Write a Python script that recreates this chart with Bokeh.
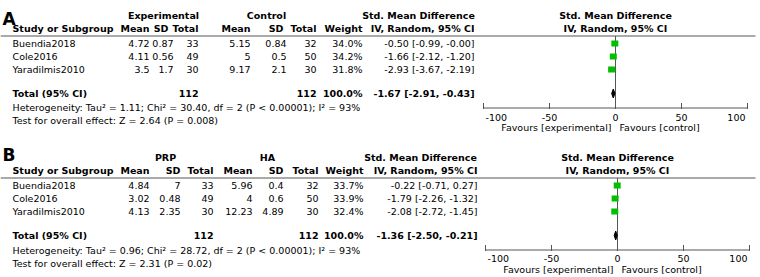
from bokeh.plotting import figure
from bokeh.models import Range1d, ColumnDataSource
from bokeh.embed import file_html
from bokeh.resources import INLINE
from bokeh.core.properties import value

# ---------------- data ----------------
studies = ["Buendia2018", "Cole2016", "Yaradilmis2010"]

# Panel A
a_groups = ["Experimental", "Control"]
a_exp_mean = [4.72, 4.11, 3.5]
a_exp_sd = [0.87, 0.56, 1.7]
a_exp_n = [33, 49, 30]
a_ctl_mean = [5.15, 5, 9.17]
a_ctl_sd = [0.84, 0.5, 2.1]
a_ctl_n = [32, 50, 30]
a_weight = [34.0, 34.2, 31.8]
a_smd = [-0.50, -1.66, -2.93]
a_lo = [-0.99, -2.12, -3.67]
a_hi = [-0.00, -1.20, -2.19]
a_total = [-1.67, -2.91, -0.43]
a_het = "Heterogeneity: Tau² = 1.11; Chi² = 30.40, df = 2 (P < 0.00001); I² = 93%"
a_test = "Test for overall effect: Z = 2.64 (P = 0.008)"

# Panel B
b_groups = ["PRP", "HA"]
b_exp_mean = [4.84, 3.02, 4.13]
b_exp_sd = [7, 0.48, 2.35]
b_exp_n = [33, 49, 30]
b_ctl_mean = [5.96, 4, 12.23]
b_ctl_sd = [0.4, 0.6, 4.89]
b_ctl_n = [32, 50, 30]
b_weight = [33.7, 33.9, 32.4]
b_smd = [-0.22, -1.79, -2.08]
b_lo = [-0.71, -2.26, -2.72]
b_hi = [0.27, -1.32, -1.45]
b_total = [-1.36, -2.50, -0.21]
b_het = "Heterogeneity: Tau² = 0.96; Chi² = 28.72, df = 2 (P < 0.00001); I² = 93%"
b_test = "Test for overall effect: Z = 2.31 (P = 0.02)"

col_headers = ["Study or Subgroup", "Mean", "SD", "Total", "Mean", "SD", "Total", "Weight"]
effect_header = ["Std. Mean Difference", "IV, Random, 95% CI"]
total_label = "Total (95% CI)"
ticks = [-100, -50, 0, 50, 100]
tick_labels = ["-100", "-50", "0", "50", "100"]
favours = ["Favours [experimental]", "Favours [control]"]
null_effect = 0

# ---------------- style ----------------
FONT = "DejaVu Sans"
FS = "9.5px"
LINE = "#555555"
GREEN = "#00c000"
SCALE = 1.32          # px per SMD unit
W, H = 760, 277
LINE_R = 755

p = figure(width=W, height=H, x_range=Range1d(0, W), y_range=Range1d(H, 0),
           toolbar_location=None, output_backend="svg",
           x_axis_type=None, y_axis_type=None, min_border=0,
           outline_line_color=None)
p.extra_x_ranges = {
    "A": Range1d((0 - 615) / SCALE, (W - 615) / SCALE),
    "B": Range1d((0 - 617) / SCALE, (W - 617) / SCALE),
}


def fmt(v):
    return f"{v:g}"


def ci(e, l, h):
    return f"{e:.2f} [{l:.2f}, {h:.2f}]"


def txt(xs, ys, texts, align, bold=False, size=FS, font=FONT, baseline="middle",
        xr="default", x_offset=0):
    src = ColumnDataSource(dict(x=xs, y=ys, text=texts))
    p.text(x="x", y="y", text="text", source=src, text_align=align,
           text_baseline=baseline, text_font=value(font),
           text_font_size=size, text_color="black", x_offset=x_offset,
           text_font_style="bold" if bold else "normal", x_range_name=xr)


def panel(letter, top, groups, exp_mean, exp_sd, exp_n, ctl_mean, ctl_sd,
          ctl_n, weight, smd, lo, hi, total, het, test, cols, group_x, smd_hdr_x,
          xr, het_dy, tick_dy, letter_base):
    (c_em, c_es_h, c_es, c_en, c_cm, c_cs_h, c_cs, c_cn, c_w, c_ci) = cols
    hdr1, hdr2, line_y = top + 15, top + 28, top + 35.5
    row_y = [top + 43, top + 56, top + 69]
    total_y = top + 93
    het_y = top + 107 + het_dy
    test_y = het_y + 13
    axis_y = top + 107.5

    # ---- table ----
    txt([2], [letter_base], [letter], "left", bold=True, size="17px",
        baseline="alphabetic")
    txt(group_x, [hdr1, hdr1], groups, "center", bold=True)
    txt([smd_hdr_x], [hdr1], [effect_header[0]], "center", bold=True)
    txt([12], [hdr2], [col_headers[0]], "left", bold=True)
    txt([c_em, c_es_h, c_en, c_cm, c_cs_h, c_cn, c_w, c_ci], [hdr2] * 8,
        col_headers[1:] + [effect_header[1]], "right", bold=True)
    p.line(x=[0, LINE_R], y=[line_y, line_y], line_color=LINE, line_width=1)

    txt([12] * 3, row_y, studies, "left")
    txt([c_em] * 3, row_y, [fmt(v) for v in exp_mean], "right")
    txt([c_es] * 3, row_y, [fmt(v) for v in exp_sd], "right")
    txt([c_en] * 3, row_y, [str(v) for v in exp_n], "right")
    txt([c_cm] * 3, row_y, [fmt(v) for v in ctl_mean], "right")
    txt([c_cs] * 3, row_y, [fmt(v) for v in ctl_sd], "right")
    txt([c_cn] * 3, row_y, [str(v) for v in ctl_n], "right")
    txt([c_w] * 3, row_y, [f"{v:.1f}%" for v in weight], "right")
    txt([c_ci] * 3, row_y, [ci(e, l, h) for e, l, h in zip(smd, lo, hi)], "right")

    txt([12], [total_y], [total_label], "left", bold=True)
    txt([c_en, c_cn, c_w, c_ci], [total_y] * 4,
        [str(sum(exp_n)), str(sum(ctl_n)), f"{sum(weight):.1f}%", ci(*total)],
        "right", bold=True)
    txt([12, 12], [het_y, test_y], [het, test], "left")

    # ---- forest plot (SMD scale) ----
    txt([null_effect, null_effect], [hdr1, hdr2], effect_header, "center",
        bold=True, xr=xr)
    p.segment(x0=[null_effect], y0=[line_y], x1=[null_effect], y1=[axis_y],
              line_color=LINE, line_width=1, x_range_name=xr)
    # axis
    p.segment(x0=[ticks[0]], y0=[axis_y], x1=[ticks[-1]], y1=[axis_y],
              line_color=LINE, line_width=1, x_range_name=xr)
    p.segment(x0=ticks, y0=[axis_y - 5] * len(ticks), x1=ticks,
              y1=[axis_y + 1] * len(ticks), line_color=LINE, line_width=1,
              x_range_name=xr)
    lab_y = axis_y + 9 + tick_dy
    txt(ticks[1:-1], [lab_y] * (len(ticks) - 2), tick_labels[1:-1], "center", xr=xr)
    txt([ticks[0]], [lab_y], [tick_labels[0]], "left", xr=xr, x_offset=2)
    txt([ticks[-1]], [lab_y], [tick_labels[-1]], "right", xr=xr, x_offset=-2)
    fav_y = axis_y + 19.5
    txt([null_effect], [fav_y], [favours[0]], "right", xr=xr, x_offset=-4)
    txt([null_effect], [fav_y], [favours[1]], "left", xr=xr, x_offset=4)

    # studies
    p.segment(x0=lo, y0=row_y, x1=hi, y1=row_y, line_color="black", line_width=1,
              x_range_name=xr)
    p.rect(x=smd, y=row_y, width=7, height=6, width_units="screen",
           height_units="screen", fill_color=GREEN, line_color=None,
           x_range_name=xr)
    p.patches(xs=[[total[1], total[0], total[2], total[0]]],
              ys=[[total_y, total_y - 4.5, total_y, total_y + 4.5]],
              fill_color="black", line_color="black", line_width=1,
              x_range_name=xr)


panel("A", 0, a_groups, a_exp_mean, a_exp_sd, a_exp_n, a_ctl_mean,
      a_ctl_sd, a_ctl_n, a_weight, a_smd, a_lo, a_hi, a_total, a_het, a_test,
      cols=(149, 168, 173, 198, 250, 283, 286, 316, 362, 474),
      group_x=[163, 266], smd_hdr_x=418, xr="A", het_dy=0, tick_dy=0,
      letter_base=18)
panel("B", 142, b_groups, b_exp_mean, b_exp_sd, b_exp_n, b_ctl_mean,
      b_ctl_sd, b_ctl_n, b_weight, b_smd, b_lo, b_hi, b_total, b_het, b_test,
      cols=(149, 180, 180, 213, 252, 283, 283, 318, 363, 477),
      group_x=[165, 267], smd_hdr_x=420, xr="B", het_dy=1, tick_dy=-1,
      letter_base=154)

open("out.html", "w").write(file_html(p, INLINE))
